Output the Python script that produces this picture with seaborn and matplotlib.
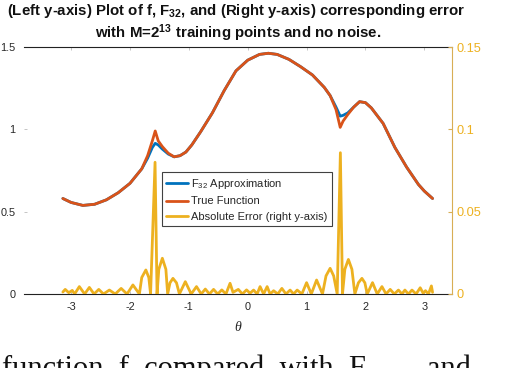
import numpy as np
import pandas as pd
import matplotlib
matplotlib.use("Agg")
import matplotlib.pyplot as plt
import seaborn as sns

# values
theta_f = [-3.14, -3.0, -2.8, -2.6, -2.4, -2.2, -2.0, -1.8, -1.7, -1.62, -1.571,
           -1.52, -1.45, -1.35, -1.25, -1.15, -1.05, -0.95, -0.8, -0.6, -0.4, -0.2,
           0.0, 0.2, 0.35, 0.5, 0.7, 0.9, 1.1, 1.3, 1.4, 1.5, 1.571, 1.62, 1.7,
           1.8, 1.9, 2.0, 2.1, 2.3, 2.5, 2.7, 2.9, 3.0, 3.14]
f_true = [0.58, 0.556, 0.538, 0.545, 0.572, 0.615, 0.672, 0.76, 0.84, 0.93, 0.99,
          0.93, 0.895, 0.855, 0.833, 0.84, 0.862, 0.905, 0.985, 1.10, 1.235, 1.355,
          1.42, 1.455, 1.462, 1.455, 1.425, 1.38, 1.33, 1.255, 1.205, 1.12, 1.012, 1.05, 1.09,
          1.135, 1.168, 1.162, 1.13, 1.036, 0.89, 0.77, 0.665, 0.625, 0.58]
f_approx = [0.58, 0.556, 0.538, 0.545, 0.572, 0.615, 0.672, 0.76, 0.825, 0.89, 0.915,
            0.905, 0.88, 0.85, 0.833, 0.84, 0.862, 0.905, 0.985, 1.10, 1.235, 1.355,
            1.42, 1.455, 1.462, 1.455, 1.425, 1.38, 1.33, 1.255, 1.205, 1.135, 1.08, 1.085, 1.10,
            1.135, 1.168, 1.162, 1.13, 1.036, 0.89, 0.77, 0.665, 0.625, 0.58]

err_theta = [-3.14, -3.10, -3.04, -2.98, -2.94, -2.86, -2.77, -2.69, -2.61, -2.53, -2.45,
             -2.35, -2.25, -2.15, -2.05, -1.95, -1.84, -1.80, -1.73, -1.68, -1.65, -1.574,
             -1.54, -1.51, -1.45, -1.39, -1.36, -1.32, -1.27, -1.21, -1.16, -1.06, -0.96,
             -0.87, -0.79, -0.72, -0.65, -0.58, -0.51, -0.44, -0.37, -0.30, -0.25, -0.16,
             -0.09, -0.02, 0.04, 0.10, 0.16, 0.21, 0.27, 0.33, 0.38, 0.44, 0.51, 0.58,
             0.65, 0.72, 0.78, 0.84, 0.92, 1.00, 1.08, 1.17, 1.27, 1.33, 1.40, 1.46, 1.52,
             1.574, 1.61, 1.65, 1.71, 1.77, 1.82, 1.88, 1.94, 1.99, 2.03, 2.12, 2.20, 2.28,
             2.35, 2.42, 2.49, 2.56, 2.62, 2.67, 2.73, 2.79, 2.86, 2.93, 2.98, 3.02, 3.07,
             3.12, 3.14]
err_vals = [0.0012, 0.0028, 0.0008, 0.0022, 0.0, 0.0045, 0.0, 0.0040, 0.0, 0.0028, 0.0,
            0.0024, 0.0, 0.0034, 0.0, 0.0055, 0.0, 0.010, 0.0146, 0.010, 0.0, 0.080,
            0.0, 0.015, 0.0217, 0.015, 0.0, 0.0068, 0.0095, 0.0068, 0.0, 0.0075, 0.0,
            0.0045, 0.0, 0.0030, 0.0, 0.0028, 0.0, 0.0025, 0.0, 0.0065, 0.001, 0.0028,
            0.0, 0.0025, 0.0005, 0.0024, 0.0, 0.0045, 0.0, 0.0045, 0.0, 0.0020, 0.0, 0.0034,
            0.0, 0.0024, 0.0, 0.0024, 0.0, 0.0069, 0.0, 0.0085, 0.0, 0.011, 0.0156, 0.011, 0.0,
            0.0858, 0.0, 0.015, 0.0210, 0.015, 0.0, 0.0068, 0.0095, 0.0068, 0.0, 0.0069, 0.0, 0.0045,
            0.0, 0.0028, 0.0, 0.0024, 0.0, 0.0024, 0.0, 0.0024, 0.0, 0.0038, 0.0005, 0.0020, 0.0,
            0.0049, 0.0010]

x_ticks = [-3, -2, -1, 0, 1, 2, 3]
left_ticks = [0, 0.5, 1, 1.5]
left_labels = ["0", "0.5", "1", "1.5"]
right_ticks = [0, 0.05, 0.1, 0.15]
right_labels = ["0", "0.05", "0.1", "0.15"]

blue = "#0072BD"
orange = "#D95319"
gold = "#EDB120"
gold_axis = "#D8AE55"

sns.set_style("white")
plt.rcParams["font.family"] = ["Liberation Sans", "DejaVu Sans"]
plt.rcParams["mathtext.fontset"] = "custom"
plt.rcParams["mathtext.rm"] = "Liberation Sans"
plt.rcParams["mathtext.bf"] = "Liberation Sans:bold"
plt.rcParams["mathtext.it"] = "Liberation Sans:italic"

fig = plt.figure(figsize=(5.24, 3.68), dpi=100)
ax = fig.add_axes([24 / 524, 1 - 294 / 368, 428 / 524, 247 / 368])
ax2 = ax.twinx()

df_f = pd.DataFrame({"theta": theta_f, "approx": f_approx, "true": f_true})
df_e = pd.DataFrame({"theta": err_theta, "err": err_vals})

sns.lineplot(data=df_f, x="theta", y="approx", ax=ax, color=blue, linewidth=2.0,
             label=r"F$_{32}$ Approximation")
sns.lineplot(data=df_f, x="theta", y="true", ax=ax, color=orange, linewidth=2.0,
             label="True Function")
sns.lineplot(data=df_e, x="theta", y="err", ax=ax2, color=gold, linewidth=2.0,
             label="Absolute Error (right y-axis)")

for a in (ax, ax2):
    if a.get_legend() is not None:
        a.get_legend().remove()

ax.set_xlim(-3.8, 3.47)
ax.set_ylim(0, 1.5)
ax2.set_ylim(0, 0.15)

ax.set_xticks(x_ticks)
ax.set_xticklabels([str(t) for t in x_ticks], fontsize=7.8, color="#262626")
ax.set_yticks(left_ticks)
ax.set_yticklabels(left_labels, fontsize=7.8, color="#262626")
ax2.set_yticks(right_ticks)
ax2.set_yticklabels(right_labels, fontsize=9.2, color=gold)

ax.tick_params(axis="x", direction="in", length=2.5, width=0.6, color="#bbbbbb",
               top=True, bottom=True, pad=6)
ax.tick_params(axis="y", direction="in", length=2.5, width=0.6, color="#bbbbbb",
               left=True, pad=6)
ax2.tick_params(axis="y", direction="in", length=3, width=0.8, color=gold_axis,
                right=True, pad=3)

for s in ("left", "right"):
    ax.spines[s].set_visible(False)
for s in ("left", "top", "bottom"):
    ax2.spines[s].set_visible(False)
ax.spines["top"].set_color("#222222")
ax.spines["bottom"].set_color("#222222")
ax.spines["top"].set_linewidth(0.8)
ax.spines["bottom"].set_linewidth(0.8)
ax2.spines["right"].set_color(gold_axis)
ax2.spines["right"].set_linewidth(0.8)

ax.set_xlabel("θ", fontsize=10, fontstyle="italic", family="Liberation Serif",
              color="#262626", labelpad=6)
ax.set_ylabel("")
ax2.set_ylabel("")

h1, l1 = ax.get_legend_handles_labels()
h2, l2 = ax2.get_legend_handles_labels()
leg = ax2.legend(h1 + h2, l1 + l2, loc="upper left", bbox_to_anchor=(0.322, 0.492),
                 borderaxespad=0, fontsize=8, frameon=True, fancybox=False,
                 edgecolor="#111111", handlelength=2.0, handletextpad=0.25,
                 borderpad=0.4, labelspacing=0.5)
leg.get_frame().set_linewidth(0.8)

fig.text(236 / 524, 1 - 11 / 368,
         r"(Left y-axis) Plot of f, F$_\mathbf{32}$, and (Right y-axis) corresponding error",
         ha="center", va="center", fontsize=10.8, fontweight="bold", color="#111111")
fig.text(238 / 524, 1 - 33 / 368,
         r"with M=2$^\mathbf{13}$ training points and no noise.",
         ha="center", va="center", fontsize=10.8, fontweight="bold", color="#111111")

# line of running text under the figure, cut by the bottom edge as in the source
fig.text(2 / 524, -9 / 368, "function  f  compared  with  F     ,  and",
         ha="left", va="baseline", fontsize=22, family="Liberation Serif", color="#111111")

fig.savefig("out.png", dpi=100)
